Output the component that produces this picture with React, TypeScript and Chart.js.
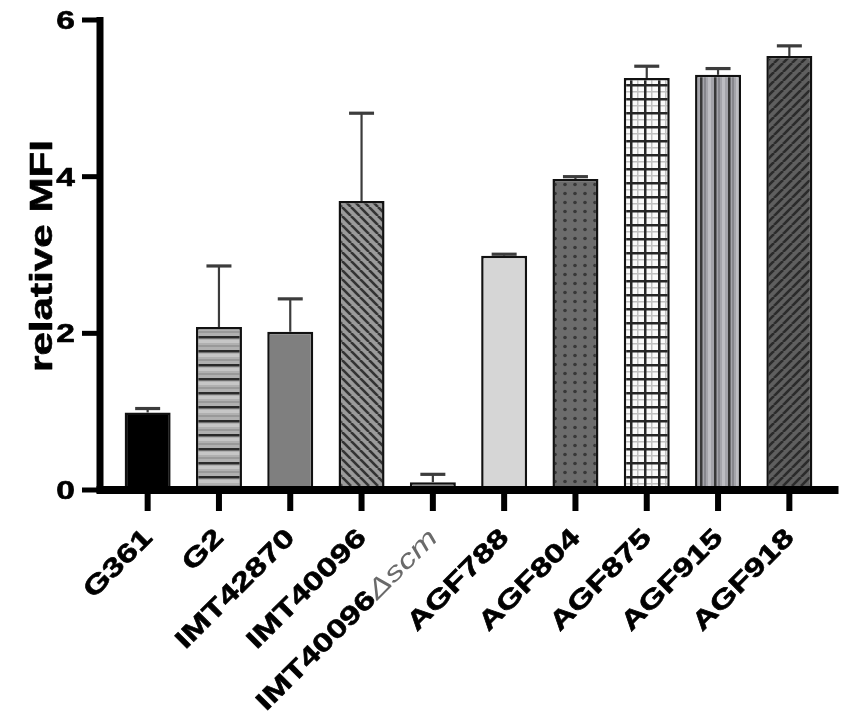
import { useEffect, useRef } from 'react';
import { Chart, registerables } from 'chart.js';

Chart.register(...registerables);

const strains = [
  'G361',
  'G2',
  'IMT42870',
  'IMT40096',
  'IMT40096Δscm',
  'AGF788',
  'AGF804',
  'AGF875',
  'AGF915',
  'AGF918',
];
const meanMfi = [0.99, 2.08, 2.02, 3.69, 0.1, 2.99, 3.97, 5.26, 5.3, 5.54];
const errMfi = [0.05, 0.78, 0.42, 1.12, 0.1, 0.02, 0.03, 0.15, 0.08, 0.13];
const yTicks = [0, 2, 4, 6];

const FONT = '"Liberation Sans", Arial, sans-serif';
const SX = 1.34; // the original lettering is drawn wide
const LABEL_PX = 26;

function tile(w: number, h: number, paint: (c: CanvasRenderingContext2D) => void) {
  const cv = document.createElement('canvas');
  cv.width = w;
  cv.height = h;
  const c = cv.getContext('2d')!;
  paint(c);
  return c.createPattern(cv, 'repeat')!;
}

function diagonal(base: string, line: string, s: number, back: boolean) {
  return tile(s, s, (c) => {
    c.fillStyle = base;
    c.fillRect(0, 0, s, s);
    c.strokeStyle = line;
    c.lineWidth = 2.6;
    for (const x0 of [-s, 0, s]) {
      c.beginPath();
      if (back) {
        c.moveTo(x0, 0);
        c.lineTo(x0 + s, s);
      } else {
        c.moveTo(x0 + s, 0);
        c.lineTo(x0, s);
      }
      c.stroke();
    }
  });
}

function makeFills() {
  const hLines = tile(14, 14, (c) => {
    c.fillStyle = '#b0b0b0';
    c.fillRect(0, 0, 14, 14);
    c.fillStyle = '#c6c6c6';
    c.fillRect(0, 4, 14, 3);
    c.fillStyle = '#999';
    c.fillRect(0, 9, 14, 2);
    c.fillStyle = '#2a2a2a';
    c.fillRect(0, 0, 14, 2.5);
  });
  const dots = tile(10, 9, (c) => {
    c.fillStyle = '#6c6c6c';
    c.fillRect(0, 0, 10, 9);
    c.fillStyle = '#383838';
    c.beginPath();
    c.arc(5, 4.5, 1.8, 0, Math.PI * 2);
    c.fill();
  });
  const grid = tile(14, 14, (c) => {
    c.fillStyle = '#fafafa';
    c.fillRect(0, 0, 14, 14);
    c.fillStyle = '#c0c0c0';
    c.fillRect(7, 0, 1.5, 14);
    c.fillRect(0, 7, 14, 1.5);
    c.fillStyle = '#262626';
    c.fillRect(0, 0, 2.5, 14);
    c.fillRect(0, 0, 14, 2.5);
  });
  const vLines = tile(14, 14, (c) => {
    c.fillStyle = '#a4a4aa';
    c.fillRect(0, 0, 14, 14);
    c.fillStyle = '#86868c';
    c.fillRect(4, 0, 2, 14);
    c.fillStyle = '#bdbdc2';
    c.fillRect(8, 0, 3, 14);
    c.fillStyle = '#383838';
    c.fillRect(0, 0, 2.5, 14);
  });
  return [
    '#000000',
    hLines,
    '#7f7f7f',
    diagonal('#9a9a9a', '#333333', 9, true),
    '#8c8c8c',
    '#d6d6d6',
    dots,
    grid,
    vLines,
    diagonal('#5f5f5f', '#2b2b2b', 9, false),
  ];
}

// bold text, a little heavier than the font's own bold
function heavyText(ctx: CanvasRenderingContext2D, text: string, x: number, y: number) {
  ctx.lineWidth = 0.6;
  ctx.lineJoin = 'round';
  ctx.strokeStyle = ctx.fillStyle as string;
  ctx.strokeText(text, x, y);
  ctx.fillText(text, x, y);
}

function wideText(
  ctx: CanvasRenderingContext2D,
  text: string,
  x: number,
  y: number,
  angle: number,
  align: CanvasTextAlign,
) {
  ctx.save();
  ctx.translate(x, y);
  ctx.rotate(angle);
  ctx.scale(SX, 1);
  ctx.textAlign = align;
  heavyText(ctx, text, 0, 0);
  ctx.restore();
}

const prismLook = {
  id: 'prismLook',
  afterDatasetsDraw(chart: Chart) {
    const { ctx, chartArea } = chart;
    const x = chart.scales.x;
    const y = chart.scales.y;
    const meta = chart.getDatasetMeta(0);

    ctx.save();
    // error bars (upper only)
    ctx.strokeStyle = '#3c3c3c';
    meta.data.forEach((bar: any, i: number) => {
      const yTop = y.getPixelForValue(meanMfi[i]);
      const yEnd = y.getPixelForValue(meanMfi[i] + errMfi[i]);
      ctx.lineWidth = 2.2;
      ctx.beginPath();
      ctx.moveTo(bar.x, yTop);
      ctx.lineTo(bar.x, yEnd);
      ctx.stroke();
      ctx.lineWidth = 3.2;
      ctx.beginPath();
      ctx.moveTo(bar.x - 12.5, yEnd);
      ctx.lineTo(bar.x + 12.5, yEnd);
      ctx.stroke();
    });

    // axes
    const y0 = y.getPixelForValue(0);
    const yMax = y.getPixelForValue(6);
    const axisX = chartArea.left - 12;
    ctx.fillStyle = '#000';
    ctx.fillRect(axisX - 3.5, yMax - 3, 7, y0 - yMax + 6);
    ctx.fillRect(axisX - 3.5, y0 - 4, chartArea.right + 17 - axisX, 8);
    yTicks.forEach((t) => {
      const py = y.getPixelForValue(t);
      ctx.fillRect(axisX - 18, py - 2.5, 18, 5);
    });
    strains.forEach((_, i) => {
      const px = x.getPixelForValue(i);
      ctx.fillRect(px - 3, y0, 6, 21);
    });

    // y tick labels
    ctx.textBaseline = 'middle';
    ctx.font = `bold 25px ${FONT}`;
    yTicks.forEach((t) => {
      wideText(ctx, String(t), axisX - 25, y.getPixelForValue(t) + 2, 0, 'right');
    });

    // y title
    ctx.font = `bold 31px ${FONT}`;
    ctx.save();
    ctx.translate(43, (yMax + y0) / 2 + 1);
    ctx.rotate(-Math.PI / 2);
    ctx.scale(1.36, 1);
    ctx.textAlign = 'center';
    heavyText(ctx, 'relative MFI', 0, 0);
    ctx.restore();

    // x labels, rotated 45 degrees
    strains.forEach((label, i) => {
      const px = x.getPixelForValue(i);
      const ax = px + 1;
      const ay = y0 + 44;
      if (label.includes('Δ')) {
        const [strain, mutant] = label.split('Δ');
        ctx.save();
        ctx.translate(ax, ay);
        ctx.rotate(-Math.PI / 4);
        ctx.scale(SX, 1);
        ctx.textAlign = 'right';
        ctx.font = `italic ${LABEL_PX}px ${FONT}`;
        ctx.fillStyle = '#6a6a6a';
        const tail = 'Δ' + mutant;
        ctx.fillText(tail, 0, 0);
        const w = ctx.measureText(tail).width;
        ctx.font = `bold ${LABEL_PX}px ${FONT}`;
        ctx.fillStyle = '#000';
        heavyText(ctx, strain, -w, 0);
        ctx.restore();
      } else {
        ctx.font = `bold ${LABEL_PX}px ${FONT}`;
        ctx.fillStyle = '#000';
        wideText(ctx, label, ax, ay, -Math.PI / 4, 'right');
      }
    });
    ctx.restore();
  },
};

function MfiChart() {
  const canvasRef = useRef<HTMLCanvasElement>(null);
  const chartRef = useRef<Chart | null>(null);

  useEffect(() => {
    if (!canvasRef.current) return;
    chartRef.current?.destroy();

    chartRef.current = new Chart(canvasRef.current, {
      type: 'bar',
      data: {
        labels: strains,
        datasets: [
          {
            label: 'relative MFI',
            data: meanMfi,
            backgroundColor: makeFills() as any,
            borderColor: '#111111',
            borderWidth: 2.5,
            barPercentage: 0.645,
            categoryPercentage: 1,
          },
        ],
      },
      options: {
        animation: false,
        responsive: true,
        maintainAspectRatio: false,
        layout: { padding: { left: 112, right: 26, top: 20, bottom: 232 } },
        plugins: {
          legend: { display: false },
          tooltip: { enabled: false },
        },
        scales: {
          x: { display: false },
          y: { display: false, min: 0, max: 6 },
        },
      },
      plugins: [prismLook],
    });

    return () => {
      chartRef.current?.destroy();
    };
  }, []);

  return <canvas ref={canvasRef} />;
}

export default function App() {
  return (
    <div
      style={{
        position: 'fixed',
        left: 0,
        top: 0,
        width: 851,
        height: 722,
        background: '#fff',
      }}
    >
      <MfiChart />
    </div>
  );
}
